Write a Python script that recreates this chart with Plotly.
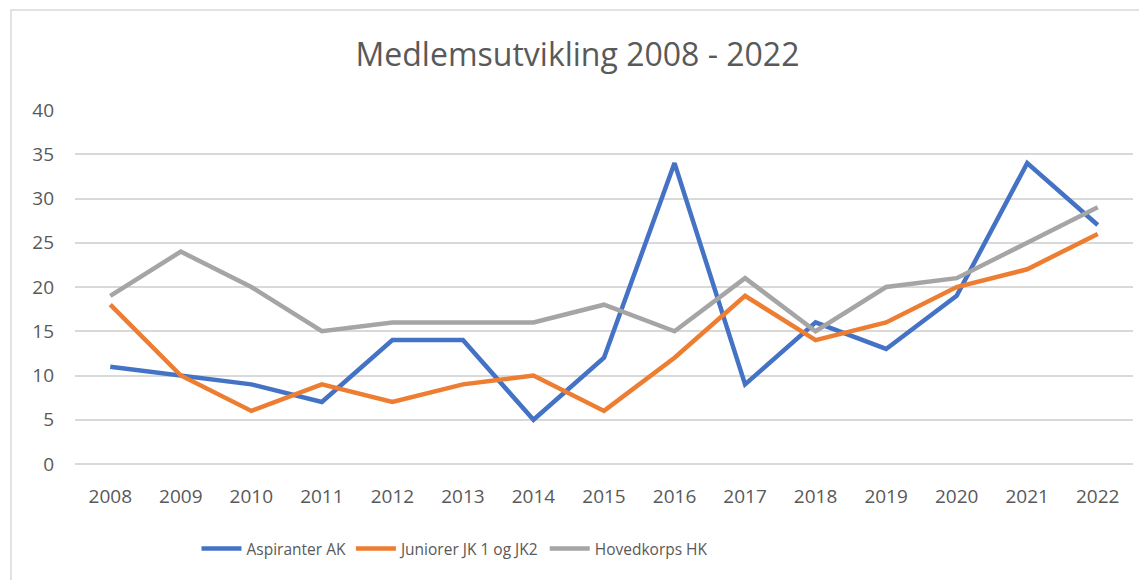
import plotly.graph_objects as go

years = [str(y) for y in range(2008, 2023)]
aspiranter = [11, 10, 9, 7, 14, 14, 5, 12, 34, 9, 16, 13, 19, 34, 27]
juniorer = [18, 10, 6, 9, 7, 9, 10, 6, 12, 19, 14, 16, 20, 22, 26]
hovedkorps = [19, 24, 20, 15, 16, 16, 16, 18, 15, 21, 15, 20, 21, 25, 29]
series_names = ["Aspiranter AK", "Juniorer JK 1 og JK2", "Hovedkorps HK"]
colors = ["#4472C4", "#ED7D31", "#A5A5A5"]
title_text = "Medlemsutvikling 2008 - 2022"

fig = go.Figure()
for name, vals, col in zip(series_names, [aspiranter, juniorer, hovedkorps], colors):
    fig.add_trace(go.Scatter(x=years, y=vals, name=name, mode="lines",
                             line=dict(color=col, width=4.5)))

# page has an 8px body margin; figure coordinates = page coordinates - 8
OFF = 8
W, H = 1147 - OFF, 580 - OFF
L = 75 - OFF
T = 110 - OFF
R = W - (1133 - OFF)
B = H - (464 - OFF)
pw, ph = W - L - R, H - T - B

def pxx(px):
    return (px - OFF - L) / pw

def pxy(py):
    return (H - B - (py - OFF)) / ph

fig.update_layout(
    width=W, height=H,
    margin=dict(l=L, r=R, t=T, b=B),
    paper_bgcolor="white", plot_bgcolor="white",
    title=dict(text=title_text, x=0.5, xanchor="center", y=1 - (55 - OFF) / H, yanchor="middle",
               font=dict(family="Open Sans", size=32, color="#595959")),
    font=dict(family="Open Sans", color="#595959"),
    legend=dict(orientation="h", x=pxx(455), xanchor="center", y=pxy(549), yanchor="middle",
                font=dict(family="Open Sans", size=15.5, color="#595959"),
                itemwidth=40, traceorder="normal"),
    xaxis=dict(type="category", range=[-0.5, 14.5], showgrid=False, showline=False,
               ticks="", tickfont=dict(size=19, color="#595959"), ticklabelstandoff=19),
    yaxis=dict(range=[0, 40], dtick=5, showgrid=True, gridcolor="#D9D9D9", gridwidth=1.5,
               zeroline=True, zerolinecolor="#D9D9D9", zerolinewidth=1.5,
               ticks="", tickfont=dict(size=19, color="#595959"), ticklabelstandoff=20),
    shapes=[dict(type="rect", xref="paper", yref="paper",
                 x0=pxx(11), x1=pxx(1147 + 30),
                 y0=pxy(580 + 30), y1=pxy(10),
                 line=dict(color="#D9D9D9", width=1.5), layer="below")],
)

fig.write_html("out.html")
